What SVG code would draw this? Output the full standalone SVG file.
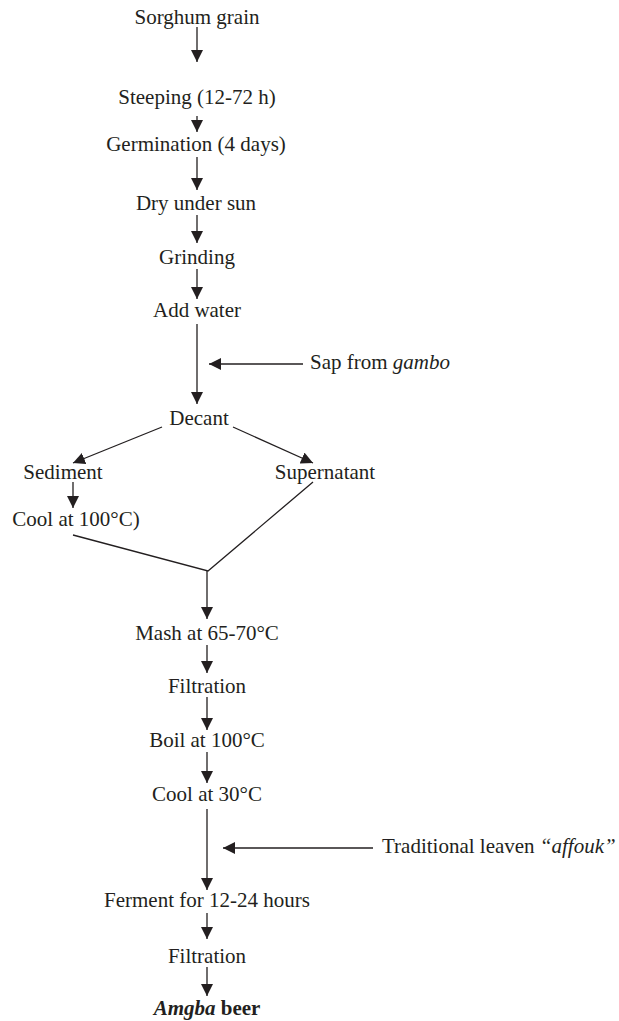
<svg xmlns="http://www.w3.org/2000/svg" width="619" height="1021" viewBox="0 0 619 1021">
<style>
text{font-family:'Liberation Serif','DejaVu Serif',serif;font-size:21px;fill:#231f20;text-anchor:middle}
.l{text-anchor:start}
.c line,.c polyline{stroke:#231f20;stroke-width:1.3;fill:none}
.a{marker-end:url(#ah)}
</style>
<defs>
<marker id="ah" viewBox="0 0 12 12" refX="12" refY="6" markerWidth="12" markerHeight="12" markerUnits="userSpaceOnUse" orient="auto">
<path d="M0,0 L12,6 L0,12 z" fill="#231f20"/>
</marker>
</defs>
<rect width="619" height="1021" fill="#fff"/>
<g class="c" id="connectors">
<line class="a" x1="197" y1="27" x2="197" y2="62"/>
<line class="a" x1="197" y1="116" x2="197" y2="132"/>
<line class="a" x1="197" y1="157" x2="197" y2="190"/>
<line class="a" x1="197" y1="215" x2="197" y2="243"/>
<line class="a" x1="197" y1="269" x2="197" y2="299"/>
<line class="a" x1="197" y1="324" x2="197" y2="404"/>
<line class="a" x1="303" y1="364" x2="209" y2="364"/>
<line class="a" x1="162" y1="427" x2="73" y2="463"/>
<line class="a" x1="233" y1="427" x2="313" y2="463"/>
<line class="a" x1="73" y1="482" x2="73" y2="508"/>
<polyline points="73,535 208,571 313,482"/>
<line class="a" x1="207" y1="571" x2="207" y2="619"/>
<line class="a" x1="207" y1="645" x2="207" y2="673"/>
<line class="a" x1="207" y1="697" x2="207" y2="730"/>
<line class="a" x1="207" y1="752" x2="207" y2="783"/>
<line class="a" x1="207" y1="809" x2="207" y2="890"/>
<line class="a" x1="373" y1="848" x2="223" y2="848"/>
<line class="a" x1="207" y1="913" x2="207" y2="939"/>
<line class="a" x1="207" y1="967" x2="207" y2="996"/>
</g>
<g id="n1"><text x="197" y="24">Sorghum grain</text></g>
<g id="n2"><text x="197" y="104">Steeping (12-72 h)</text></g>
<g id="n3"><text x="196" y="151">Germination (4 days)</text></g>
<g id="n4"><text x="196" y="210">Dry under sun</text></g>
<g id="n5"><text x="197" y="264">Grinding</text></g>
<g id="n6"><text x="197" y="317">Add water</text></g>
<g id="n7"><text class="l" x="310" y="369">Sap from <tspan font-style="italic">gambo</tspan></text></g>
<g id="n8"><text x="199" y="425">Decant</text></g>
<g id="n9"><text x="63" y="479">Sediment</text></g>
<g id="n10"><text x="325" y="479">Supernatant</text></g>
<g id="n11"><text x="76" y="526">Cool at 100°C)</text></g>
<g id="n12"><text x="207" y="640">Mash at 65-70°C</text></g>
<g id="n13"><text x="207" y="693">Filtration</text></g>
<g id="n14"><text x="207" y="747">Boil at 100°C</text></g>
<g id="n15"><text x="207" y="801">Cool at 30°C</text></g>
<g id="n16"><text class="l" x="382" y="853">Traditional leaven <tspan font-style="italic">“affouk”</tspan></text></g>
<g id="n17"><text x="207" y="907">Ferment for 12-24 hours</text></g>
<g id="n18"><text x="207" y="963">Filtration</text></g>
<g id="n19"><text x="207" y="1015" font-weight="bold"><tspan font-style="italic">Amgba</tspan> beer</text></g>
</svg>
